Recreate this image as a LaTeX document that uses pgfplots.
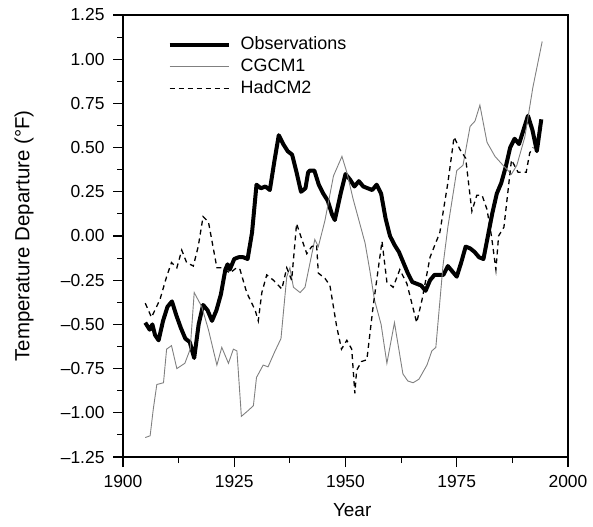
\documentclass[border=0pt]{standalone}
\usepackage{pgfplots}
\pgfplotsset{compat=1.18}
\usepackage{fontspec}
\setmainfont{Liberation Sans}

% Annual temperature departures (deg F)
\pgfplotstableread{
year  t
1905 -0.49
1906 -0.53
1906.6 -0.50
1907.2 -0.56
1908 -0.59
1909 -0.48
1910 -0.40
1911 -0.37
1912 -0.45
1913 -0.52
1914 -0.58
1915 -0.60
1916 -0.69
1917 -0.50
1918 -0.39
1919 -0.42
1920 -0.48
1921 -0.42
1922 -0.33
1923 -0.19
1923.5 -0.16
1924 -0.19
1925 -0.13
1926 -0.12
1927 -0.12
1928 -0.13
1929 0.02
1930 0.29
1931 0.27
1932 0.28
1933 0.26
1934 0.42
1935 0.57
1936 0.52
1937 0.48
1938 0.46
1939 0.36
1940 0.25
1941 0.27
1941.6 0.36
1942 0.37
1943 0.37
1944 0.29
1945 0.24
1946 0.20
1947 0.12
1947.6 0.09
1949 0.25
1950 0.35
1951 0.32
1952 0.28
1953 0.31
1954 0.28
1955 0.27
1956 0.26
1957 0.29
1958 0.24
1959 0.10
1960 0.00
1961 -0.05
1962 -0.09
1963 -0.15
1964 -0.21
1965 -0.26
1966 -0.27
1967 -0.28
1968 -0.31
1969 -0.25
1970 -0.22
1971 -0.22
1972 -0.22
1973 -0.17
1974 -0.20
1975 -0.23
1976 -0.15
1977 -0.06
1978 -0.07
1979 -0.09
1980 -0.12
1981 -0.13
1982 0.00
1983 0.13
1984 0.24
1985 0.30
1986 0.39
1987 0.50
1988 0.55
1989 0.52
1990 0.60
1991 0.68
1992 0.60
1993 0.48
1994 0.66
}\obs

\pgfplotstableread{
year  t
1905 -1.14
1906.1 -1.13
1906.8 -0.98
1907.6 -0.84
1909.1 -0.83
1909.8 -0.64
1910.9 -0.62
1912.1 -0.75
1913.9 -0.72
1915.1 -0.64
1916 -0.32
1917.7 -0.40
1919.2 -0.53
1921.1 -0.73
1922.2 -0.63
1923.7 -0.72
1924.8 -0.64
1925.6 -0.65
1926.6 -1.02
1928 -0.99
1929.3 -0.96
1930 -0.80
1931.5 -0.73
1932.6 -0.74
1934 -0.66
1935.5 -0.58
1936.8 -0.23
1937.5 -0.18
1938.3 -0.29
1939.8 -0.32
1940.9 -0.29
1943.1 -0.02
1943.9 -0.06
1945.4 0.09
1947.3 0.34
1949.2 0.45
1950.3 0.36
1951.7 0.21
1953 0.09
1954.4 -0.04
1955.5 -0.20
1956.5 -0.36
1958 -0.50
1959.3 -0.72
1961 -0.49
1962.9 -0.78
1964 -0.82
1965.2 -0.83
1966.5 -0.81
1968.3 -0.73
1969.4 -0.65
1970.3 -0.63
1971.9 -0.17
1973 0.05
1975 0.37
1976.4 0.40
1978 0.62
1979.1 0.65
1980.2 0.74
1981.8 0.53
1983.6 0.45
1985.4 0.40
1987.3 0.35
1988.5 0.40
1990.3 0.56
1992.1 0.84
1994.2 1.10
}\cgcm

\pgfplotstableread{
year  t
1905 -0.38
1906.4 -0.46
1908.3 -0.36
1909.8 -0.23
1910.9 -0.15
1912.1 -0.18
1913.2 -0.08
1914.3 -0.15
1915.8 -0.17
1916.9 -0.06
1918 0.11
1919.2 0.08
1921.1 -0.18
1922.5 -0.18
1924 -0.21
1925.5 -0.18
1926.3 -0.19
1927.8 -0.32
1929.7 -0.42
1930.4 -0.48
1931.2 -0.32
1932.3 -0.22
1933.8 -0.25
1935.7 -0.30
1936.8 -0.18
1937.9 -0.25
1938.7 -0.02
1939.0 0.07
1940.2 -0.02
1941.3 -0.10
1942.4 -0.06
1943.5 -0.05
1943.9 -0.21
1945.4 -0.24
1946.5 -0.28
1948.0 -0.51
1949.1 -0.64
1950.3 -0.59
1951.4 -0.64
1952.1 -0.89
1952.5 -0.76
1953.6 -0.71
1954.8 -0.70
1956.2 -0.40
1958.2 -0.03
1959.3 -0.26
1960.7 -0.29
1962.2 -0.19
1963.8 -0.27
1966 -0.49
1967.2 -0.36
1969 -0.12
1971.2 0.02
1973 0.30
1974.4 0.56
1975.7 0.49
1977 0.44
1978.4 0.14
1979.5 0.23
1980.7 0.23
1981.8 0.15
1982.8 0.00
1983.8 -0.19
1984.4 0.00
1985.6 0.05
1987.3 0.43
1988.8 0.36
1990.6 0.36
1991.4 0.47
1992.2 0.50
}\had

\begin{document}
\begin{tikzpicture}
\useasboundingbox (0,0) rectangle (593bp,527bp);
\begin{axis}[
  at={(123bp,70bp)}, anchor=south west,
  scale only axis, width=445bp, height=442bp,
  xmin=1900, xmax=2000, ymin=-1.25, ymax=1.25,
  axis line style={line width=1.1bp},
  every tick/.style={black, line width=1.1bp},
  tick pos=left, tick align=outside,
  major tick length=10bp, minor tick length=6bp,
  xtick={1900,1925,1950,1975,2000},
  xticklabels={1900,1925,1950,1975,2000},
  ytick={-1.25,-1,-0.75,-0.5,-0.25,0,0.25,0.5,0.75,1,1.25},
  yticklabels={–1.25,–1.00,–0.75,–0.50,–0.25,0.00,0.25,0.50,0.75,1.00,1.25},
  minor x tick num=1, minor y tick num=1,
  ticklabel style={font=\fontsize{17.5}{20}\selectfont},
  yticklabel style={xshift=-5bp},
  xticklabel style={yshift=-5bp},
  xlabel={Year}, ylabel={Temperature Departure (°F)},
  every axis x label/.style={at={(axis description cs:0.515,-0.12)}, anchor=center,
    font=\fontsize{19}{22}\selectfont},
  every axis y label/.style={at={(axis description cs:-0.2225,0.5)}, rotate=90,
    anchor=center, font=\fontsize{20.5}{24}\selectfont},
  legend cell align=left,
  legend image code/.code={\draw[#1] (0bp,0bp) -- (59bp,0bp);},
  legend style={draw=none, fill=none, at={(axis description cs:0.1,0.958)},
    anchor=north west, inner sep=0pt,
    font=\fontsize{18}{21}\selectfont,
    nodes={text height=13bp, text depth=4bp, inner ysep=2.5bp},
    /tikz/every odd column/.append style={column sep=8bp}},
]
\addplot[black, line width=4bp, line join=round] table[x=year,y=t] {\obs};
\addlegendentry{Observations}
\addplot[black!50, line width=0.9bp] table[x=year,y=t] {\cgcm};
\addlegendentry{CGCM1}
\addplot[black, line width=1.3bp, dash pattern=on 5bp off 4bp] table[x=year,y=t] {\had};
\addlegendentry{HadCM2}
\end{axis}
\end{tikzpicture}
\end{document}
